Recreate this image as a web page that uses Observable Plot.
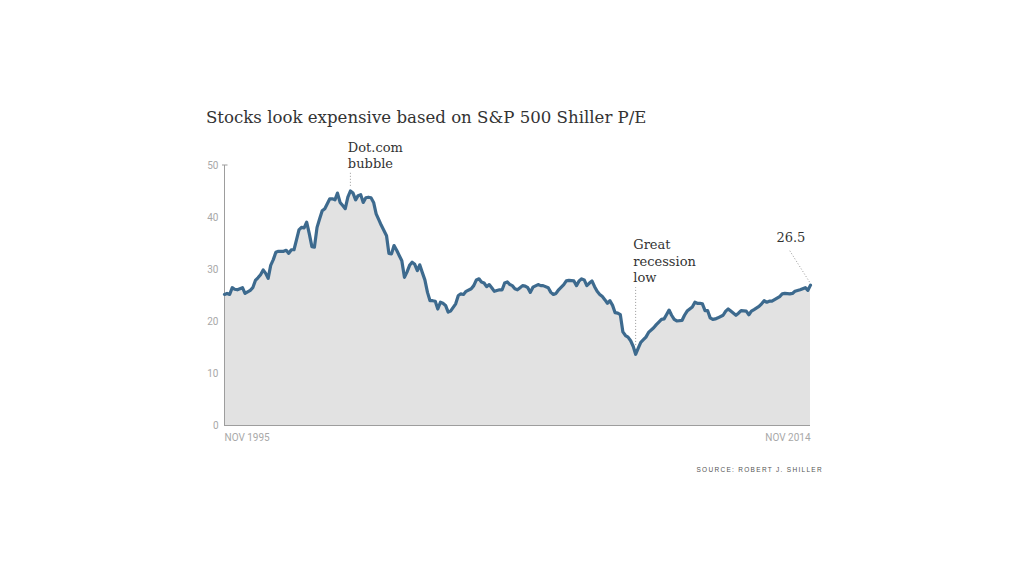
<!DOCTYPE html>
<html>
<head>
<meta charset="utf-8">
<script src="https://cdn.jsdelivr.net/npm/d3@7"></script>
<script src="https://cdn.jsdelivr.net/npm/@observablehq/plot@0.6"></script>
<style>
  html, body { margin: 0; padding: 0; background: #fff; }
  #wrap { width: 1024px; height: 576px; position: relative; overflow: hidden; }
  #title { margin-left: 206px; padding-top: 108px; height: 20px; line-height: 20px; margin-bottom: 7px;
           font-family: "DejaVu Serif", serif; font-size: 16.6px; color: #333; white-space: nowrap; }
  #chart svg { display: block; overflow: visible; }
  #source { width: 823px; text-align: right; margin-top: 10px; line-height: 10px;
            font-family: "Liberation Sans", Arial, sans-serif; font-size: 6.5px; letter-spacing: 1.3px; color: #555; }
</style>
</head>
<body>
<div id="wrap">
  <div id="title">Stocks look expensive based on S&amp;P 500 Shiller P/E</div>
  <div id="chart"></div>
  <div id="source">SOURCE: ROBERT J. SHILLER</div>
</div>
<script>
const months = ["1995-11","1995-12","1996-01","1996-02","1996-03","1996-04","1996-06","1996-07","1996-09","1996-10",
"1996-11","1996-12","1997-01","1997-02","1997-03","1997-04","1997-05","1997-06","1997-07","1997-08",
"1997-10","1997-11","1997-12","1998-01","1998-02","1998-03","1998-04","1998-05","1998-06","1998-07",
"1998-08","1998-09","1998-10","1998-11","1998-12","1999-01","1999-02","1999-03","1999-04","1999-05",
"1999-06","1999-07","1999-08","1999-09","1999-10","1999-11","1999-12","2000-01","2000-02","2000-03",
"2000-04","2000-05","2000-06","2000-07","2000-08","2000-09","2000-10","2000-11","2000-12","2001-01",
"2001-02","2001-03","2001-04","2001-05","2001-06","2001-07","2001-08","2001-09","2001-10","2001-11",
"2001-12","2002-01","2002-02","2002-03","2002-04","2002-05","2002-06","2002-07","2002-08","2002-09",
"2002-10","2002-11","2002-12","2003-01","2003-02","2003-03","2003-05","2003-06","2003-07","2003-08",
"2003-09","2003-11","2003-12","2004-01","2004-02","2004-03","2004-04","2004-05","2004-06","2004-07",
"2004-08","2004-10","2004-11","2004-12","2005-01","2005-02","2005-03","2005-04","2005-05","2005-06",
"2005-07","2005-08","2005-09","2005-10","2005-11","2006-01","2006-02","2006-03","2006-05","2006-06",
"2006-07","2006-08","2006-09","2006-11","2006-12","2007-01","2007-03","2007-04","2007-05","2007-06",
"2007-07","2007-08","2007-09","2007-10","2007-11","2007-12","2008-01","2008-02","2008-03","2008-04",
"2008-05","2008-06","2008-07","2008-08","2008-09","2008-10","2008-11","2008-12","2009-01","2009-02",
"2009-03","2009-04","2009-05","2009-06","2009-07","2009-08","2009-10","2009-11","2009-12","2010-01",
"2010-02","2010-03","2010-04","2010-05","2010-06","2010-07","2010-09","2010-10","2010-11","2011-01",
"2011-02","2011-03","2011-04","2011-05","2011-06","2011-07","2011-08","2011-09","2011-10","2011-11",
"2012-01","2012-02","2012-03","2012-04","2012-06","2012-07","2012-08","2012-10","2012-11","2012-12",
"2013-01","2013-03","2013-04","2013-05","2013-06","2013-07","2013-08","2013-09","2013-11","2013-12",
"2014-01","2014-03","2014-04","2014-05","2014-07","2014-08","2014-09","2014-10","2014-11"];

const shillerPE = [25.2,25.4,25.2,26.5,26.2,26.1,26.5,25.4,26.0,26.5,
27.9,28.4,29.0,29.9,29.3,28.3,30.8,31.9,33.3,33.5,
33.5,33.7,33.1,33.8,33.8,35.6,37.6,38.1,38.0,39.1,
36.9,34.4,34.3,38.1,39.7,41.3,41.7,42.6,43.6,43.6,
43.4,44.7,42.9,42.3,41.7,43.9,45.1,44.7,43.4,44.2,
44.4,42.9,43.8,43.9,43.8,42.9,40.7,39.6,38.5,37.5,
36.5,33.1,33.0,34.6,33.7,32.7,31.7,28.5,29.5,30.8,
31.4,31.0,29.8,30.9,29.4,28.0,25.6,24.0,24.0,23.9,
22.4,23.7,23.5,23.1,21.8,22.0,23.4,25.0,25.3,25.2,
25.8,26.3,26.9,28.0,28.2,27.6,27.4,26.7,27.1,26.5,
25.8,26.1,26.1,27.4,27.6,27.1,26.9,26.3,26.1,26.5,
26.9,26.8,26.5,25.6,26.6,27.1,26.9,26.9,26.5,25.6,
25.2,25.4,26.1,27.1,27.8,27.9,27.8,26.9,27.8,28.2,
28.0,26.9,27.4,27.8,26.7,25.8,25.2,24.8,24.2,23.5,
24.0,23.1,21.7,21.6,21.3,18.0,17.3,17.0,16.3,15.2,
13.7,14.9,16.0,16.5,17.0,17.9,18.8,19.4,19.9,20.4,
20.5,21.3,22.2,21.2,20.4,20.1,20.2,21.2,22.0,22.8,
23.7,23.5,23.5,23.4,22.1,22.1,20.7,20.4,20.5,20.7,
21.2,22.0,22.4,22.0,21.2,21.6,22.1,22.0,21.3,22.0,
22.3,22.9,23.4,24.0,23.7,23.9,23.9,24.2,24.8,25.3,
25.4,25.3,25.4,25.8,26.1,26.3,26.5,26.0,27.0];

const yTicks = [0, 10, 20, 30, 40, 50];
const xTicks = ["1995-11", "2014-11"];
const xTickLabels = ["NOV 1995", "NOV 2014"];

const annotationLabels = ["Dot.com\nbubble", "Great\nrecession\nlow", "26.5"];
const annotationDates = ["1999-11", "2009-02", "2014-09"];
const annotationValues = [52.1, 31.8, 36.3];
const annotationAnchors = ["start", "start", "end"];

const pointerDates = ["1999-12", "2009-03"];
const pointerFrom = [46.0, 15.4];
const pointerTo = [48.7, 26.5];
const leaderStart = {date: "2014-03", value: 33.6};
const leaderEnd = {date: "2014-11", value: 27.3};

const parse = d3.utcParse("%Y-%m");
const data = months.map((m, i) => ({date: parse(m), pe: shillerPE[i]}));
const annotations = annotationLabels.map((t, i) => ({label: t, date: parse(annotationDates[i]), value: annotationValues[i], anchor: annotationAnchors[i]}));
const pointers = pointerDates.map((d, i) => ({date: parse(d), y1: pointerFrom[i], y2: pointerTo[i]}));
const leader = [{x1: parse(leaderStart.date), y1: leaderStart.value, x2: parse(leaderEnd.date), y2: leaderEnd.value}];

const tickDates = xTicks.map(parse);
const labelFor = (d) => xTickLabels[tickDates.findIndex(t => +t === +d)];

const axisFont = '"Liberation Sans Narrow", "Arial Narrow", Roboto, sans-serif';

const chart = Plot.plot({
  width: 1024,
  height: 320,
  marginLeft: 224,
  marginRight: 214,
  marginTop: 30,
  marginBottom: 30,
  style: {fontFamily: axisFont, background: "transparent", overflow: "visible"},
  x: {type: "utc", domain: tickDates},
  y: {domain: [0, 50]},
  marks: [
    Plot.areaY(data, {x: "date", y: "pe", fill: "#e2e2e2"}),
    Plot.ruleY([0], {stroke: "#9d9d9d", strokeWidth: 1}),
    Plot.ruleX([tickDates[0]], {y1: 0, y2: 50, stroke: "#9d9d9d", strokeWidth: 1, markerEnd: "tick-x"}),
    Plot.lineY(data, {x: "date", y: "pe", stroke: "#3d6a8e", strokeWidth: 3.2, strokeLinejoin: "round", strokeLinecap: "round"}),
    Plot.axisY(yTicks, {tickSize: 0, tickPadding: 6, fontSize: 10, fill: "#a8a8a8", fontFamily: axisFont, label: null}),
    Plot.axisX([tickDates[0]], {tickSize: 0, tickPadding: 8, textAnchor: "start", fontSize: 10, fill: "#a8a8a8", fontFamily: axisFont, tickFormat: labelFor, label: null}),
    Plot.axisX([tickDates[1]], {tickSize: 0, tickPadding: 8, textAnchor: "end", fontSize: 10, fill: "#a8a8a8", fontFamily: axisFont, tickFormat: labelFor, label: null}),
    Plot.ruleX(pointers, {x: "date", y1: "y1", y2: "y2", stroke: "#999", strokeWidth: 1, strokeDasharray: "1,2"}),
    Plot.link(leader, {x1: "x1", y1: "y1", x2: "x2", y2: "y2", stroke: "#999", strokeWidth: 1, strokeDasharray: "1,2"}),
    Plot.text(annotations, {filter: d => d.anchor === "start", x: "date", y: "value", text: "label", textAnchor: "start", lineAnchor: "middle", lineHeight: 1.3, fontFamily: "DejaVu Serif, serif", fontSize: 13, fill: "#333"}),
    Plot.text(annotations, {filter: d => d.anchor === "end", x: "date", y: "value", text: "label", textAnchor: "end", lineAnchor: "middle", lineHeight: 1.3, fontFamily: "DejaVu Serif, serif", fontSize: 13, fill: "#333"})
  ]
});
document.getElementById("chart").appendChild(chart);
</script>
</body>
</html>
